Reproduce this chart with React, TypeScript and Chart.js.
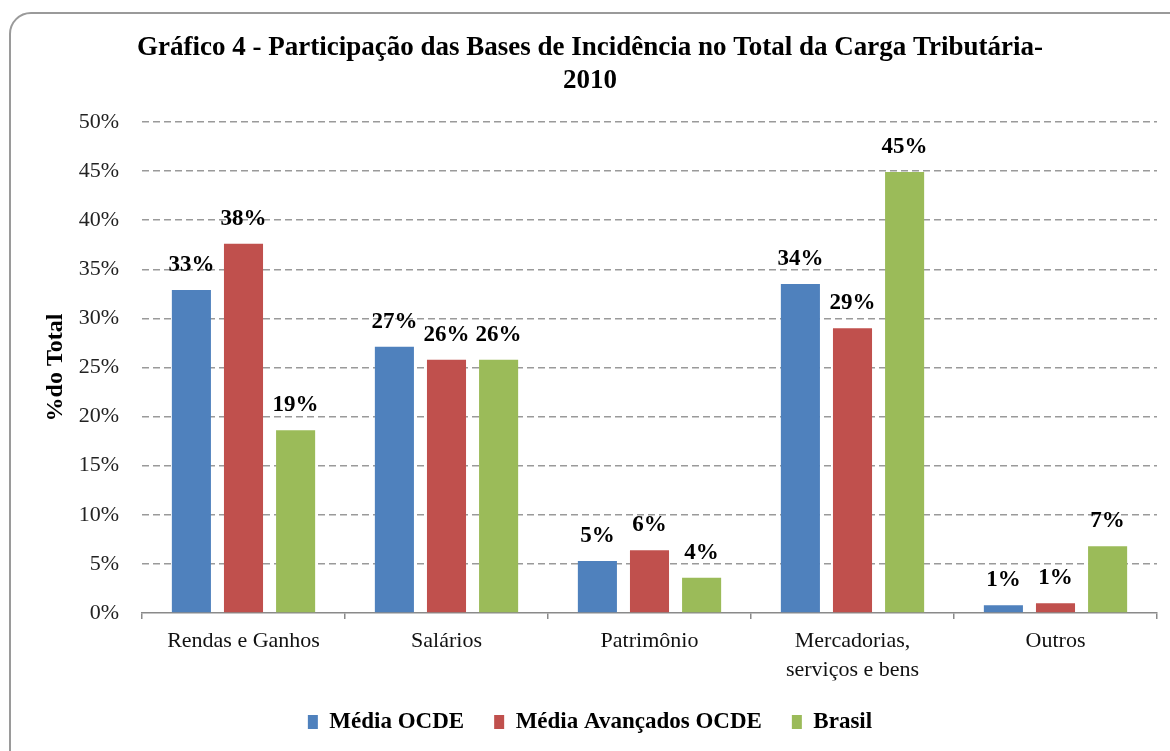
import React, { useEffect, useRef } from "react";
import { Chart, registerables } from "chart.js";

Chart.register(...registerables);

const TITLE_LINES = [
  "Gráfico 4 - Participação das Bases de Incidência no Total da Carga Tributária-",
  "2010",
];
const CATEGORIES: (string | string[])[] = [
  "Rendas e Ganhos",
  "Salários",
  "Patrimônio",
  ["Mercadorias,", "serviços e bens"],
  "Outros",
];
const SERIES_NAMES = ["Média OCDE", "Média Avançados OCDE", "Brasil"];
const MEDIA_OCDE = [32.9, 27.1, 5.3, 33.5, 0.8];
const MEDIA_AVANCADOS = [37.6, 25.8, 6.4, 29.0, 1.0];
const BRASIL = [18.6, 25.8, 3.6, 44.9, 6.8];
const COLORS = ["#4F81BD", "#C0504D", "#9BBB59"];
const Y_MIN = 0;
const Y_MAX = 50;
const Y_STEP = 5;
const Y_TITLE = "%do Total";

const FONT = "'Liberation Serif', 'Times New Roman', serif";

const valueLabels = {
  id: "valueLabels",
  afterDatasetsDraw(chart: any) {
    const ctx = chart.ctx;
    ctx.save();
    ctx.font = `bold 23px ${FONT}`;
    ctx.fillStyle = "#000";
    ctx.textAlign = "center";
    ctx.textBaseline = "middle";
    chart.data.datasets.forEach((ds: any, i: number) => {
      const meta = chart.getDatasetMeta(i);
      meta.data.forEach((bar: any, j: number) => {
        const v = ds.data[j];
        ctx.fillText(`${Math.round(v)}%`, bar.x, bar.y - 25);
      });
    });
    ctx.restore();
  },
};

export default function App() {
  const canvasRef = useRef<HTMLCanvasElement | null>(null);

  useEffect(() => {
    const canvas = canvasRef.current;
    if (!canvas) return;
    const seriesData = [MEDIA_OCDE, MEDIA_AVANCADOS, BRASIL];
    const chart = new Chart(canvas, {
      type: "bar",
      data: {
        labels: CATEGORIES as any,
        datasets: SERIES_NAMES.map((name, i) => ({
          label: name,
          data: seriesData[i],
          backgroundColor: COLORS[i],
          borderWidth: 0,
          categoryPercentage: 0.77,
          barPercentage: 0.75,
        })),
      },
      options: {
        animation: false,
        responsive: false,
        maintainAspectRatio: false,
        layout: { padding: { left: 23, right: 13, top: 0, bottom: 7.5 } },
        plugins: {
          title: {
            display: true,
            text: TITLE_LINES,
            color: "#000",
            font: { family: FONT, size: 27, weight: "bold", lineHeight: 1.222 },
            padding: { top: 31.5, bottom: 24.5 },
          },
          legend: {
            display: true,
            position: "bottom",
            labels: {
              color: "#000",
              font: { family: FONT, size: 23, weight: "bold" },
              boxWidth: 10,
              boxHeight: 14,
              padding: 30,
            },
          },
          tooltip: { enabled: false },
        },
        scales: {
          x: {
            grid: {
              display: true,
              drawOnChartArea: false,
              drawTicks: true,
              tickLength: 6,
              color: "#8a8a8a",
              lineWidth: 1.5,
            },
            border: { display: true, color: "#8a8a8a", width: 1.5 },
            ticks: {
              color: "#111",
              font: { family: FONT, size: 22, lineHeight: 1.32 },
              padding: 8,
              maxRotation: 0,
              autoSkip: false,
            },
            afterFit(scale: any) {
              scale.height = 67.5;
            },
          },
          y: {
            min: Y_MIN,
            max: Y_MAX,
            border: { display: false, dash: [7, 4] },
            grid: {
              drawTicks: false,
              color: (c: any) => (c.tick && c.tick.value === 0 ? "rgba(0,0,0,0)" : "#9a9a9a"),
              lineWidth: 1.5,
            },
            ticks: {
              stepSize: Y_STEP,
              color: "#222",
              font: { family: FONT, size: 22 },
              padding: 23,
              callback: (v: any) => `${v}%`,
            },
            title: {
              display: true,
              text: Y_TITLE,
              color: "#000",
              font: { family: FONT, size: 24, weight: "bold" },
              padding: { top: 18, bottom: 0 },
            },
            afterFit(scale: any) {
              scale.width = 119;
            },
          },
        },
      },
      plugins: [valueLabels],
    });
    return () => chart.destroy();
  }, []);

  return (
    <div style={{ position: "fixed", left: 0, top: 0, width: 1170, height: 751, background: "#fff", overflow: "hidden" }}>
      <div
        style={{
          position: "absolute",
          left: 9,
          top: 12,
          width: 1200,
          height: 800,
          border: "2px solid #9a9a9a",
          borderRadius: 22,
          boxSizing: "border-box",
        }}
      />
      <canvas ref={canvasRef} width={1170} height={751} style={{ position: "absolute", left: 0, top: 0 }} />
    </div>
  );
}
